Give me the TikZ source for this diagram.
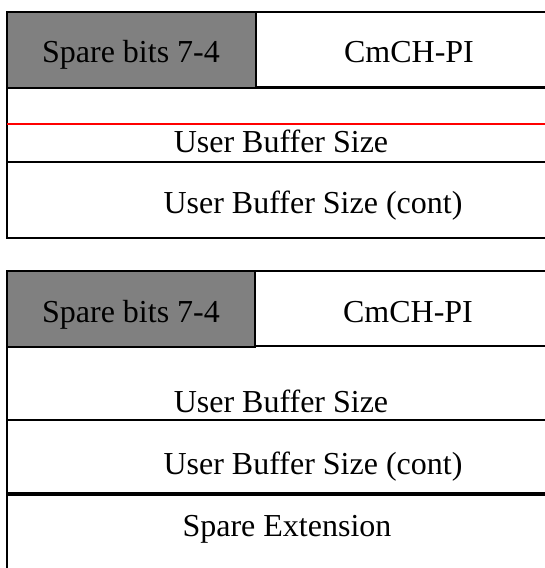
\documentclass[tikz,border=0pt]{standalone}
\usepackage{fontspec}
\setmainfont{Liberation Serif}
\usetikzlibrary{positioning}
\definecolor{sparegray}{HTML}{808080}
\tikzstyle{field}=[draw,line width=2pt,anchor=north west,inner sep=0pt,outer sep=0pt]
\tikzstyle{label}=[inner sep=0pt,anchor=base,font=\fontsize{32}{38}\selectfont]

\begin{document}
\begin{tikzpicture}[x=1pt,y=1pt,
rule/.style = {line width=2pt},
redrule/.style = {line width=2pt, red}]
\useasboundingbox (0,0) rectangle (544,-568);
% first octet layout
\node [field,fill=sparegray,minimum width=249pt,minimum height=76pt] (spareA) at (7,-12) {};
\node [field,minimum width=292pt,minimum height=75pt] (pibA) at (256,-12) {};
\node [field,minimum width=541pt,minimum height=150pt] (bodyA) at (7,-88) {};
\coordinate (redL) at (7,-124);
\coordinate (redR) at (548,-124);
\coordinate (midL) at (7,-162);
\coordinate (midR) at (548,-162);
\draw [redrule] (redL) -- (redR);
\draw [rule] (midL) -- (midR);
\node [label] (spareAtxt) at (131,-62) {Spare bits 7-4};
\node [label] (pibAtxt) at (409,-62) {CmCH-PI};
\node [label] (ubsA) at (281,-152) {User Buffer Size};
\node [label] (ubscA) at (313,-213) {User Buffer Size (cont)};
% second octet layout
\node [field,fill=sparegray,minimum width=248pt,minimum height=76pt] (spareB) at (7,-271) {};
\node [field,minimum width=293pt,minimum height=75pt] (pibB) at (255,-271) {};
\coordinate (topL) at (7,-347);
\coordinate (lowL) at (7,-572);
\coordinate (ubsL) at (7,-420);
\coordinate (ubsR) at (548,-420);
\coordinate (extL) at (7,-494);
\coordinate (extR) at (548,-494);
\draw [rule] (topL) -- (lowL);
\draw [rule] (ubsL) -- (ubsR);
\draw [line width=3.5pt] (extL) -- (extR);
\node [label] (spareBtxt) at (131,-322) {Spare bits 7-4};
\node [label] (pibBtxt) at (408,-322) {CmCH-PI};
\node [label] (ubsB) at (281,-412) {User Buffer Size};
\node [label] (ubscB) at (313,-474) {User Buffer Size (cont)};
\node [label] (extB) at (287,-536) {Spare Extension};
\end{tikzpicture}
\end{document}
